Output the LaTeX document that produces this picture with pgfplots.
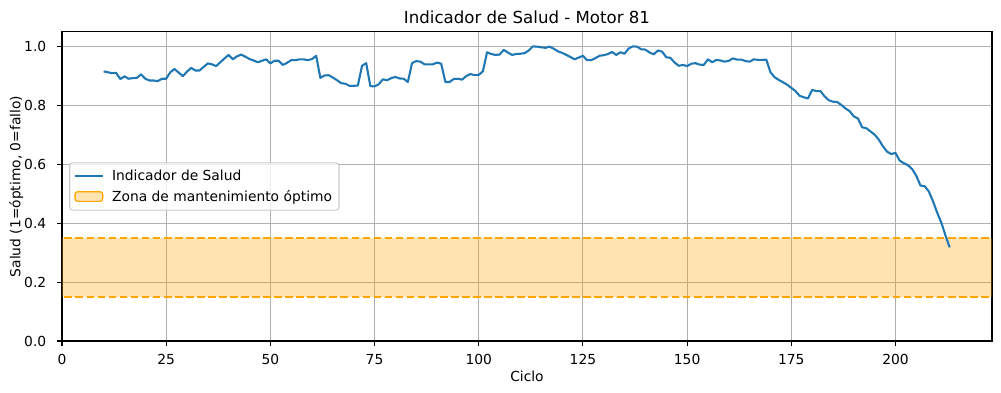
\documentclass[border=0pt]{standalone}
\usepackage{fontspec}
\setmainfont{DejaVu Sans}
\usepackage{pgfplots}
\pgfplotsset{compat=1.18}
\definecolor{mplblue}{HTML}{1F77B4}
\definecolor{mplorange}{HTML}{FFA500}
\definecolor{gridgray}{HTML}{B0B0B0}
\definecolor{legframe}{HTML}{CCCCCC}
\pgfplotsset{
  mplline/.style={legend image code/.code={\draw[##1] (0bp,0bp) -- (20bp,0bp);}},
  mplpatch/.style={legend image code/.code={\fill[mplorange, fill opacity=0.3] (0bp,-3.5bp) rectangle (20bp,3.5bp); \draw[mplorange, draw opacity=0.25, line width=0.8bp] (0bp,-3.5bp) rectangle (20bp,3.5bp);}},
}
\begin{document}
\begin{tikzpicture}
\begin{axis}[
  name=ax,
  scale only axis,
  width=669.6bp, height=222.5bp,
  xmin=0, xmax=223.15, ymin=0, ymax=1.05,
  xtick={0,25,...,200},
  ytick={0,0.2,0.4,0.6,0.8,1.0},
  /pgf/number format/assume math mode=true,
  tick align=outside,
  xtick pos=left, ytick pos=left,
  major tick length=3.5bp,
  every tick/.style={black, line width=0.8bp},
  axis line style={line width=0.8bp},
  grid=major,
  major grid style={gridgray, line width=0.8bp},
  tick label style={font=\fontsize{10}{12}\selectfont},
  x tick label style={anchor=base, inner sep=0pt, yshift=-13.7bp},
  y tick label style={anchor=east, inner sep=0pt, xshift=-7.6bp, /pgf/number format/fixed, /pgf/number format/fixed zerofill, /pgf/number format/precision=1},
  every axis title/.style={at={(axis description cs:0.5,1.027)}, anchor=base, inner sep=0pt, font=\fontsize{12}{14}\selectfont},
  every axis x label/.style={at={(axis description cs:0.5,-0.1303)}, anchor=base, inner sep=0pt, font=\fontsize{10}{12}\selectfont},
  every axis y label/.style={at={(axis description cs:-0.0448,0.5)}, rotate=90, anchor=base, inner sep=0pt, font=\fontsize{10}{12}\selectfont},
  title={Indicador de Salud - Motor 81},
  xlabel={Ciclo},
  ylabel={Salud (1=óptimo, 0=fallo)},
  legend cell align=left,
  legend style={at={(axis description cs:0.0078,0.5)}, anchor=west,
    draw=legframe, line width=0.8bp, rounded corners=2bp, fill=white, fill opacity=0.8, text opacity=1,
    font=\fontsize{10}{12}\selectfont, inner xsep=3bp, inner ysep=3bp, row sep=1.5bp,
    /tikz/every odd column/.append style={column sep=4bp}},
]
\addplot[draw=none, fill=mplorange, fill opacity=0.3, forget plot] coordinates {(-10,0.15) (240,0.15) (240,0.35) (-10,0.35)} -- cycle;
\addplot[mplorange, line width=1.5bp, dash pattern=on 5.55bp off 2.4bp, forget plot] coordinates {(-10,0.35) (240,0.35)};
\addplot[mplorange, line width=1.5bp, dash pattern=on 5.55bp off 2.4bp, forget plot] coordinates {(-10,0.15) (240,0.15)};
\addplot[mplblue, line width=1.5bp, line join=round, mplline] table {
10 0.916
11 0.913
12 0.910
13 0.911
14 0.890
15 0.899
16 0.891
17 0.893
18 0.894
19 0.906
20 0.891
21 0.885
22 0.885
23 0.883
24 0.891
25 0.891
26 0.913
27 0.924
28 0.912
29 0.900
30 0.915
31 0.928
32 0.919
33 0.919
34 0.931
35 0.943
36 0.940
37 0.934
38 0.947
39 0.960
40 0.972
41 0.957
42 0.967
43 0.973
44 0.966
45 0.958
46 0.953
47 0.947
48 0.952
49 0.957
50 0.943
51 0.952
52 0.952
53 0.938
54 0.945
55 0.954
56 0.954
57 0.957
58 0.957
59 0.954
60 0.958
61 0.969
62 0.894
63 0.902
64 0.903
65 0.895
66 0.886
67 0.876
68 0.874
69 0.867
70 0.867
71 0.868
72 0.935
73 0.944
74 0.866
75 0.865
76 0.872
77 0.889
78 0.886
79 0.893
80 0.897
81 0.892
82 0.891
83 0.880
84 0.944
85 0.951
86 0.949
87 0.940
88 0.940
89 0.940
90 0.946
91 0.942
92 0.880
93 0.880
94 0.890
95 0.891
96 0.888
97 0.900
98 0.907
99 0.903
100 0.904
101 0.916
102 0.981
103 0.975
104 0.972
105 0.973
106 0.989
107 0.980
108 0.972
109 0.975
110 0.976
111 0.978
112 0.987
113 1.001
114 1.000
115 0.998
116 0.996
117 1.000
118 0.993
119 0.984
120 0.979
121 0.972
122 0.965
123 0.957
124 0.963
125 0.969
126 0.954
127 0.954
128 0.961
129 0.969
130 0.971
131 0.975
132 0.982
133 0.972
134 0.981
135 0.976
136 0.994
137 1.001
138 1.000
139 0.991
140 0.990
141 0.980
142 0.974
143 0.987
144 0.983
145 0.964
146 0.962
147 0.946
148 0.935
149 0.938
150 0.934
151 0.942
152 0.944
153 0.939
154 0.938
155 0.957
156 0.947
157 0.955
158 0.953
159 0.949
160 0.952
161 0.960
162 0.956
163 0.956
164 0.951
165 0.949
166 0.957
167 0.955
168 0.955
169 0.956
170 0.913
171 0.896
172 0.887
173 0.879
174 0.871
175 0.860
176 0.849
177 0.833
178 0.828
179 0.824
180 0.853
181 0.849
182 0.849
183 0.831
184 0.818
185 0.813
186 0.812
187 0.802
188 0.790
189 0.781
190 0.763
191 0.756
192 0.726
193 0.723
194 0.712
195 0.701
196 0.684
197 0.661
198 0.643
199 0.635
200 0.639
201 0.613
202 0.604
203 0.597
204 0.584
205 0.561
206 0.528
207 0.526
208 0.508
209 0.475
210 0.436
211 0.402
212 0.358
213 0.318
};
\addlegendentry{Indicador de Salud}
\addlegendimage{mplpatch}
\addlegendentry{Zona de mantenimiento óptimo}
\end{axis}
\pgfresetboundingbox
\path[use as bounding box] ([xshift=-44.6bp,yshift=-37.4bp]ax.south west) rectangle ([xshift=6.5bp,yshift=23bp]ax.north east);
\end{tikzpicture}
\end{document}
